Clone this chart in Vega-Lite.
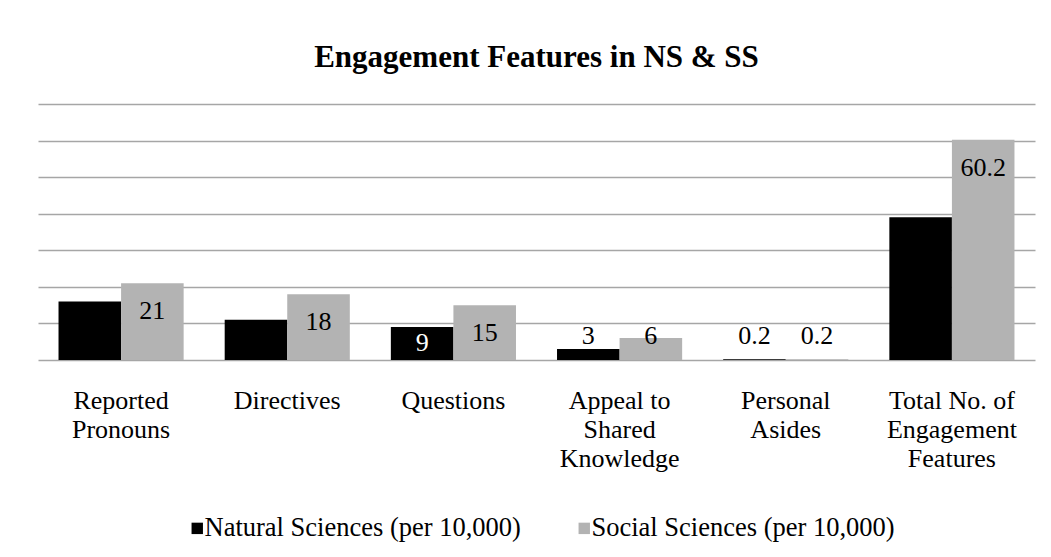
{
  "$schema": "https://vega.github.io/schema/vega-lite/v6.json",
  "width": 997,
  "height": 256,
  "autosize": {"type": "none"},
  "padding": {"left": 38, "top": 104, "right": 16, "bottom": 197},
  "background": "white",
  "config": {"view": {"stroke": null}, "font": "'Liberation Serif', 'Times New Roman', serif"},
  "title": {"text": "Engagement Features in NS & SS", "font": "'Liberation Serif', 'Times New Roman', serif", "fontSize": 31, "fontWeight": "bold", "color": "black", "anchor": "middle", "offset": 30},
  "data": {"values": [
    {"category": "Reported Pronouns", "series": "Natural Sciences (per 10,000)", "value": 16},
    {"category": "Reported Pronouns", "series": "Social Sciences (per 10,000)", "value": 21},
    {"category": "Directives", "series": "Natural Sciences (per 10,000)", "value": 11},
    {"category": "Directives", "series": "Social Sciences (per 10,000)", "value": 18},
    {"category": "Questions", "series": "Natural Sciences (per 10,000)", "value": 9},
    {"category": "Questions", "series": "Social Sciences (per 10,000)", "value": 15},
    {"category": "Appeal to Shared Knowledge", "series": "Natural Sciences (per 10,000)", "value": 3},
    {"category": "Appeal to Shared Knowledge", "series": "Social Sciences (per 10,000)", "value": 6},
    {"category": "Personal Asides", "series": "Natural Sciences (per 10,000)", "value": 0.2},
    {"category": "Personal Asides", "series": "Social Sciences (per 10,000)", "value": 0.2},
    {"category": "Total No. of Engagement Features", "series": "Natural Sciences (per 10,000)", "value": 39},
    {"category": "Total No. of Engagement Features", "series": "Social Sciences (per 10,000)", "value": 60.2}
  ]},
  "encoding": {
    "x": {
      "field": "category", "type": "nominal", "sort": null,
      "scale": {"paddingInner": 0.247, "paddingOuter": 0.1235},
      "axis": {
        "title": null, "domain": false, "ticks": false, "labelAngle": 0,
        "labelFont": "'Liberation Serif', 'Times New Roman', serif", "labelFontSize": 26, "labelColor": "black",
        "labelPadding": 27, "labelBaseline": "top", "labelLineHeight": 29, "labelLimit": 250,
        "labelExpr": "datum.value == 'Reported Pronouns' ? ['Reported','Pronouns'] : datum.value == 'Appeal to Shared Knowledge' ? ['Appeal to','Shared','Knowledge'] : datum.value == 'Personal Asides' ? ['Personal','Asides'] : datum.value == 'Total No. of Engagement Features' ? ['Total No. of','Engagement','Features'] : datum.value"
      }
    },
    "xOffset": {"field": "series", "type": "nominal", "scale": {"paddingInner": 0}},
    "y": {"field": "value", "type": "quantitative",
      "scale": {"domain": [0, 70], "nice": false},
      "axis": {"title": null, "labels": false, "ticks": false, "domain": false, "grid": true, "values": [0, 10, 20, 30, 40, 50, 60, 70], "gridColor": "#A6A6A6", "gridWidth": 1.3}
    }
  },
  "layer": [
    {
      "mark": {"type": "bar"},
      "encoding": {
        "color": {"field": "series", "type": "nominal",
          "scale": {"domain": ["Natural Sciences (per 10,000)", "Social Sciences (per 10,000)"], "range": ["#000000", "#B3B3B3"]},
          "legend": {"title": null, "orient": "none", "legendX": 146, "legendY": 411, "padding": 0, "direction": "horizontal", "symbolType": "square", "symbolSize": 130, "symbolStrokeWidth": 0, "symbolOpacity": 1, "labelFont": "'Liberation Serif', 'Times New Roman', serif", "labelFontSize": 26.5, "labelColor": "black", "labelOffset": -6, "columnPadding": 50, "labelLimit": 500}
        }
      }
    },
    {
      "transform": [{"filter": "datum.series == 'Social Sciences (per 10,000)' && datum.value >= 10"}],
      "mark": {"type": "text", "fontSize": 26, "color": "black", "dy": 28, "baseline": "middle"},
      "encoding": {"text": {"field": "value", "type": "quantitative"}}
    },
    {
      "transform": [{"filter": "datum.series == 'Natural Sciences (per 10,000)' && datum.value >= 5 && datum.value < 10"}],
      "mark": {"type": "text", "fontSize": 26, "color": "white", "dy": 16, "baseline": "middle"},
      "encoding": {"text": {"field": "value", "type": "quantitative"}}
    },
    {
      "transform": [{"filter": "datum.value < 8"}],
      "mark": {"type": "text", "fontSize": 26, "color": "black", "dy": -24, "baseline": "middle"},
      "encoding": {"y": {"datum": 0}, "text": {"field": "value", "type": "quantitative"}}
    }
  ]
}
